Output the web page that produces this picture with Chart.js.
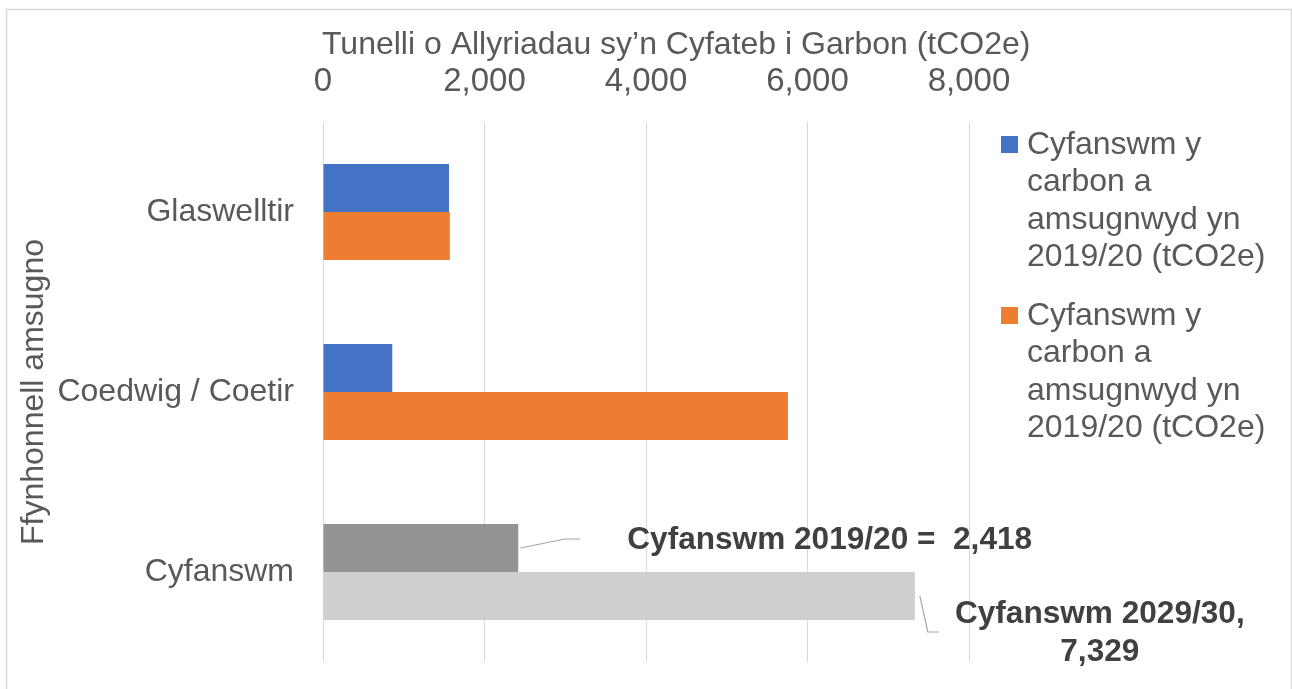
<!DOCTYPE html>
<html><head><meta charset="utf-8">
<script src="https://cdn.jsdelivr.net/npm/chart.js@4.4.1/dist/chart.umd.min.js"></script>
<style>html,body{margin:0;padding:0;background:#fff}</style>
</head><body>
<canvas id="c" width="1292" height="689"></canvas>
<script>
// ---- data ----
const categories = ['Glaswelltir', 'Coedwig / Coetir', 'Cyfanswm'];
const seriesNames = [
  'Cyfanswm y carbon a amsugnwyd yn 2019/20 (tCO2e)',
  'Cyfanswm y carbon a amsugnwyd yn 2019/20 (tCO2e)'
];
const values2019 = [1560, 858, 2418];
const values2029 = [1571, 5758, 7329];
const xTickValues = [0, 2000, 4000, 6000, 8000];
const xTitle = 'Tunelli o Allyriadau sy’n Cyfateb i Garbon (tCO2e)';
const yTitle = 'Ffynhonnell amsugno';
const totalLabelPrefixes = ['Cyfanswm 2019/20 =  ', 'Cyfanswm 2029/30,'];

// ---- styles ----
const FONT = "'Liberation Sans', Arial, sans-serif";
const TEXT = '#595959';
const GRID = '#d9d9d9';
const colors2019 = ['#4472c4', '#4472c4', '#939393'];
const colors2029 = ['#ed7d31', '#ed7d31', '#d0cece'];
const fmt = v => v.toLocaleString('en-US');

Chart.defaults.font.family = FONT;
Chart.defaults.color = TEXT;

const framePlugin = {
  id: 'frame',
  beforeDraw(chart) {
    const ctx = chart.ctx;
    ctx.save();
    ctx.fillStyle = '#fff';
    ctx.fillRect(0, 0, chart.width, chart.height);
    ctx.strokeStyle = GRID;
    ctx.lineWidth = 1.5;
    ctx.strokeRect(6.5, 9.5, chart.width - 7, chart.height + 20);
    ctx.restore();
  }
};

// x-axis title drawn without Chart.js' maxWidth squeeze
const xTitlePlugin = {
  id: 'xTitle',
  afterDraw(chart) {
    const ctx = chart.ctx;
    ctx.save();
    ctx.font = '32px ' + FONT;
    ctx.fillStyle = TEXT;
    ctx.textAlign = 'left';
    ctx.textBaseline = 'alphabetic';
    ctx.fillText(xTitle, chart.chartArea.left - 1, chart.chartArea.top - 68);
    ctx.restore();
  }
};

function wrap(ctx, text, maxW) {
  const words = text.split(' ');
  const lines = [];
  let cur = '';
  for (const w of words) {
    const t = cur ? cur + ' ' + w : w;
    if (ctx.measureText(t).width > maxW && cur) { lines.push(cur); cur = w; }
    else cur = t;
  }
  if (cur) lines.push(cur);
  return lines;
}

const legendPlugin = {
  id: 'customLegend',
  afterDraw(chart) {
    const ctx = chart.ctx;
    ctx.save();
    ctx.font = '32px ' + FONT;
    ctx.textBaseline = 'middle';
    ctx.textAlign = 'left';
    const x0 = chart.chartArea.right + 32;
    let y = 145;
    const lh = 37.5;
    chart.data.datasets.forEach(ds => {
      const lines = wrap(ctx, ds.label, 255);
      ctx.fillStyle = ds.backgroundColor[0];
      ctx.fillRect(x0, y - 9, 17, 17);
      ctx.fillStyle = TEXT;
      lines.forEach((ln, i) => ctx.fillText(ln, x0 + 26, y + i * lh));
      y += lines.length * lh + 21;
    });
    ctx.restore();
  }
};

const totalsPlugin = {
  id: 'totals',
  afterDatasetsDraw(chart) {
    const ctx = chart.ctx;
    const last = categories.length - 1;
    const e1 = chart.getDatasetMeta(0).data[last];
    const e2 = chart.getDatasetMeta(1).data[last];
    ctx.save();
    ctx.strokeStyle = '#a6a6a6';
    ctx.lineWidth = 1.2;
    ctx.beginPath();
    ctx.moveTo(e1.x + 2, e1.y);
    ctx.lineTo(e1.x + 47, e1.y - 9);
    ctx.lineTo(e1.x + 62, e1.y - 9);
    ctx.stroke();
    ctx.beginPath();
    ctx.moveTo(e2.x + 5, e2.y);
    ctx.lineTo(e2.x + 13, e2.y + 36);
    ctx.lineTo(e2.x + 24, e2.y + 36);
    ctx.stroke();

    ctx.fillStyle = '#404040';
    ctx.font = 'bold 31.6px ' + FONT;
    ctx.textBaseline = 'middle';
    ctx.textAlign = 'left';
    ctx.fillText(totalLabelPrefixes[0] + fmt(values2019[last]), e1.x + 109, e1.y - 8);
    ctx.textAlign = 'center';
    ctx.fillText(totalLabelPrefixes[1], e2.x + 185, e2.y + 18);
    ctx.fillText(fmt(values2029[last]), e2.x + 185, e2.y + 56);
    ctx.restore();
  }
};

new Chart(document.getElementById('c'), {
  type: 'bar',
  data: {
    labels: categories,
    datasets: [
      { label: seriesNames[0], data: values2019, backgroundColor: colors2019,
        categoryPercentage: 0.533, barPercentage: 1.0 },
      { label: seriesNames[1], data: values2029, backgroundColor: colors2029,
        categoryPercentage: 0.533, barPercentage: 1.0 }
    ]
  },
  options: {
    indexAxis: 'y',
    responsive: false,
    animation: false,
    devicePixelRatio: 1,
    layout: { padding: { top: 10, left: 7, right: 323, bottom: 27 } },
    plugins: { legend: { display: false }, tooltip: { enabled: false } },
    scales: {
      x: {
        position: 'top',
        min: 0, max: 8000,
        afterBuildTicks: s => { s.ticks = xTickValues.map(v => ({ value: v })); },
        afterFit: s => { s.height = 112; s.paddingLeft = 0; s.paddingRight = 0; },
        grid: { color: GRID, lineWidth: 1, drawTicks: false },
        border: { display: false },
        ticks: { font: { size: 33 }, color: TEXT, padding: 20, callback: v => fmt(v), maxRotation: 0 },
        title: { display: false }
      },
      y: {
        afterFit: s => { s.width = 316; s.paddingTop = 0; s.paddingBottom = 0; },
        grid: { display: false, drawTicks: false },
        border: { display: false },
        ticks: { font: { size: 32 }, color: TEXT, padding: 29 },
        title: { display: true, text: yTitle, font: { size: 32 }, color: TEXT, padding: { top: 8, bottom: 0 } }
      }
    }
  },
  plugins: [framePlugin, xTitlePlugin, legendPlugin, totalsPlugin]
});
</script>
</body></html>
